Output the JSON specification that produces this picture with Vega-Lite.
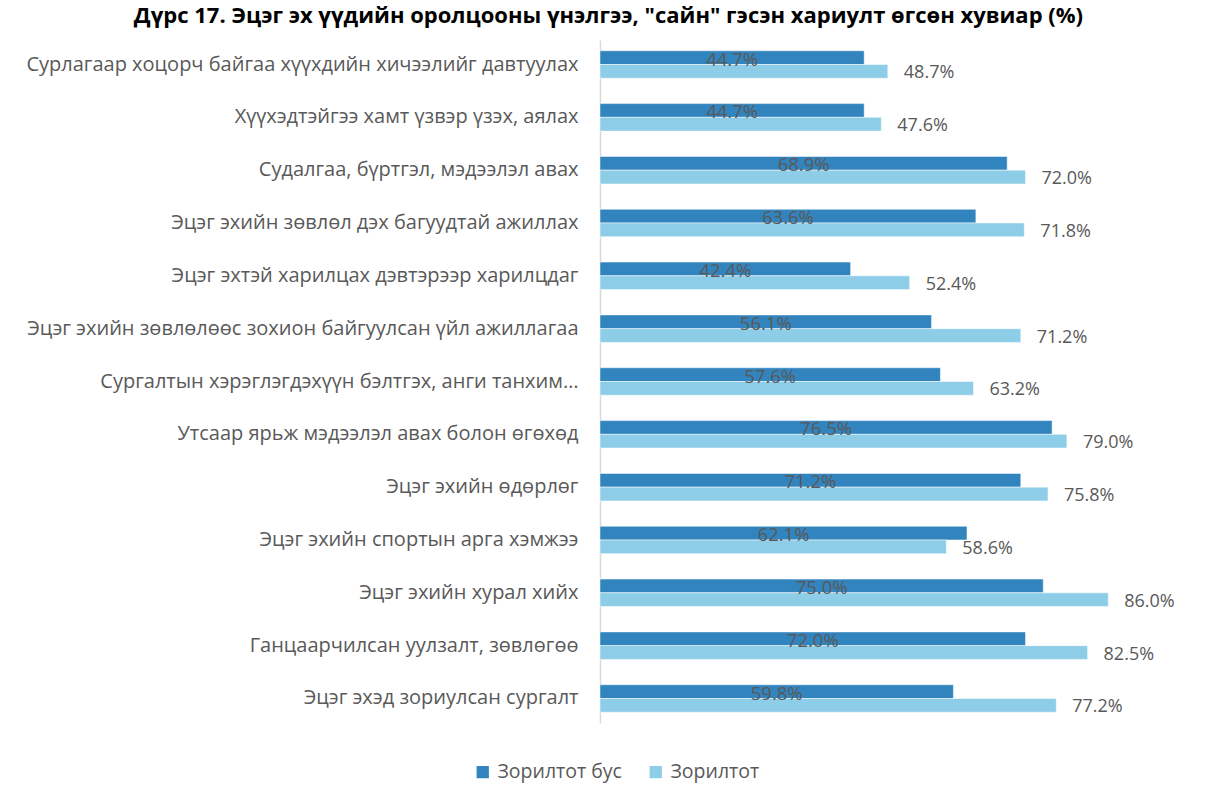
{
  "$schema": "https://vega.github.io/schema/vega-lite/v6.json",
  "autosize": "none",
  "width": 591,
  "height": 683,
  "padding": {"left": 600, "top": 40, "right": 15, "bottom": 80},
  "background": "white",
  "title": {
    "text": "Дүрс 17. Эцэг эх үүдийн оролцооны үнэлгээ, \"сайн\" гэсэн хариулт өгсөн хувиар (%)",
    "font": "Open Sans",
    "fontSize": 22,
    "fontWeight": "bold",
    "color": "#000000",
    "anchor": "middle",
    "frame": "bounds",
    "offset": 12
  },
  "config": {
    "view": {"stroke": null},
    "font": "Open Sans"
  },
  "data": {
    "values": [
      {"cat": "Сурлагаар хоцорч байгаа хүүхдийн хичээлийг давтуулах", "series": "Зорилтот бус", "value": 0.447},
      {"cat": "Сурлагаар хоцорч байгаа хүүхдийн хичээлийг давтуулах", "series": "Зорилтот", "value": 0.487},
      {"cat": "Хүүхэдтэйгээ хамт үзвэр үзэх, аялах", "series": "Зорилтот бус", "value": 0.447},
      {"cat": "Хүүхэдтэйгээ хамт үзвэр үзэх, аялах", "series": "Зорилтот", "value": 0.476},
      {"cat": "Судалгаа, бүртгэл, мэдээлэл авах", "series": "Зорилтот бус", "value": 0.689},
      {"cat": "Судалгаа, бүртгэл, мэдээлэл авах", "series": "Зорилтот", "value": 0.72},
      {"cat": "Эцэг эхийн зөвлөл дэх багуудтай ажиллах", "series": "Зорилтот бус", "value": 0.636},
      {"cat": "Эцэг эхийн зөвлөл дэх багуудтай ажиллах", "series": "Зорилтот", "value": 0.718},
      {"cat": "Эцэг эхтэй харилцах дэвтэрээр харилцдаг", "series": "Зорилтот бус", "value": 0.424},
      {"cat": "Эцэг эхтэй харилцах дэвтэрээр харилцдаг", "series": "Зорилтот", "value": 0.524},
      {"cat": "Эцэг эхийн зөвлөлөөс зохион байгуулсан үйл ажиллагаа", "series": "Зорилтот бус", "value": 0.561},
      {"cat": "Эцэг эхийн зөвлөлөөс зохион байгуулсан үйл ажиллагаа", "series": "Зорилтот", "value": 0.712},
      {"cat": "Сургалтын хэрэглэгдэхүүн бэлтгэх, анги танхим…", "series": "Зорилтот бус", "value": 0.576},
      {"cat": "Сургалтын хэрэглэгдэхүүн бэлтгэх, анги танхим…", "series": "Зорилтот", "value": 0.632},
      {"cat": "Утсаар ярьж мэдээлэл авах болон өгөхөд", "series": "Зорилтот бус", "value": 0.765},
      {"cat": "Утсаар ярьж мэдээлэл авах болон өгөхөд", "series": "Зорилтот", "value": 0.79},
      {"cat": "Эцэг эхийн өдөрлөг", "series": "Зорилтот бус", "value": 0.712},
      {"cat": "Эцэг эхийн өдөрлөг", "series": "Зорилтот", "value": 0.758},
      {"cat": "Эцэг эхийн спортын арга хэмжээ", "series": "Зорилтот бус", "value": 0.621},
      {"cat": "Эцэг эхийн спортын арга хэмжээ", "series": "Зорилтот", "value": 0.586},
      {"cat": "Эцэг эхийн хурал хийх", "series": "Зорилтот бус", "value": 0.75},
      {"cat": "Эцэг эхийн хурал хийх", "series": "Зорилтот", "value": 0.86},
      {"cat": "Ганцаарчилсан уулзалт, зөвлөгөө", "series": "Зорилтот бус", "value": 0.72},
      {"cat": "Ганцаарчилсан уулзалт, зөвлөгөө", "series": "Зорилтот", "value": 0.825},
      {"cat": "Эцэг эхэд зориулсан сургалт", "series": "Зорилтот бус", "value": 0.598},
      {"cat": "Эцэг эхэд зориулсан сургалт", "series": "Зорилтот", "value": 0.772}
    ]
  },
  "encoding": {
    "y": {
      "field": "cat",
      "type": "nominal",
      "sort": null,
      "scale": {"paddingInner": 0.48, "paddingOuter": 0.204},
      "axis": {
        "title": null,
        "ticks": false,
        "labelFontSize": 20,
        "labelColor": "#595959",
        "labelPadding": 22,
        "labelLimit": 600,
        "domainColor": "#d9d9d9",
        "domainWidth": 1.5
      }
    },
    "yOffset": {
      "field": "series",
      "type": "nominal",
      "scale": {"domain": ["Зорилтот бус", "Зорилтот"], "paddingInner": 0, "paddingOuter": 0}
    }
  },
  "layer": [
    {
      "mark": {"type": "bar", "stroke": "#ffffff", "strokeWidth": 0.5},
      "encoding": {
        "x": {"field": "value", "type": "quantitative", "scale": {"domain": [0, 1]}, "axis": null},
        "color": {
          "field": "series",
          "type": "nominal",
          "scale": {"domain": ["Зорилтот бус", "Зорилтот"], "range": ["#3284BE", "#8ECDE8"]},
          "legend": {
            "title": null,
            "orient": "none",
            "direction": "horizontal",
            "legendX": -127,
            "legendY": 722,
            "symbolType": "square",
            "symbolSize": 150,
            "symbolStrokeWidth": 0,
            "labelFontSize": 19.5,
            "labelColor": "#595959",
            "columnPadding": 24,
            "labelOffset": 5
          }
        }
      }
    },
    {
      "transform": [{"filter": "datum.series == 'Зорилтот бус'"}],
      "mark": {"type": "text", "align": "center", "baseline": "middle", "fontSize": 18.5, "fill": "#595959", "dy": 2},
      "encoding": {
        "x": {"field": "value", "type": "quantitative", "scale": {"domain": [0, 2]}, "axis": null},
        "text": {"field": "value", "type": "quantitative", "format": ".1%"}
      }
    },
    {
      "transform": [{"filter": "datum.series == 'Зорилтот'"}],
      "mark": {"type": "text", "align": "left", "baseline": "middle", "fontSize": 18, "fill": "#595959", "dx": 16, "dy": 2},
      "encoding": {
        "x": {"field": "value", "type": "quantitative", "scale": {"domain": [0, 1]}, "axis": null},
        "text": {"field": "value", "type": "quantitative", "format": ".1%"}
      }
    }
  ],
  "resolve": {"scale": {"x": "independent"}}
}
